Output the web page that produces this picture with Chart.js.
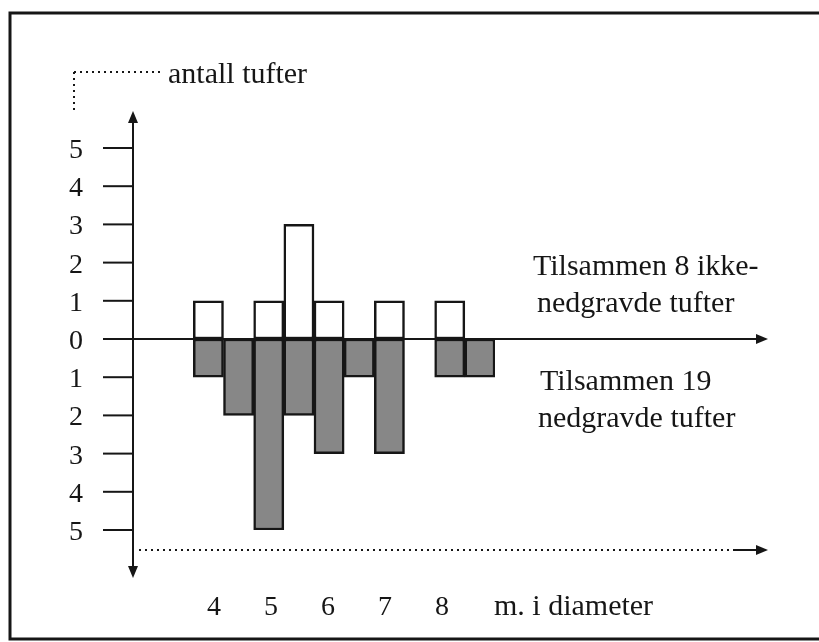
<!DOCTYPE html>
<html>
<head>
<meta charset="utf-8">
<script src="https://cdn.jsdelivr.net/npm/chart.js@4.4.1/dist/chart.umd.min.js"></script>
<style>
  html, body { margin: 0; padding: 0; background: #fff; }
  canvas { display: block; }
</style>
</head>
<body>
<canvas id="myChart" width="819" height="642"></canvas>
<script>
'use strict';

// half-metre diameter classes (the first two hold no tufts)
const bins = ['3', '3,5', '4', '4,5', '5', '5,5', '6', '6,5', '7', '7,5', '8', '8,5'];
// tufts not dug down, drawn upwards
const ikkeNedgravde = [0, 0, 1, 0, 1, 3, 1, 0, 1, 0, 1, 0];
// dug-down tufts, drawn downwards
const nedgravde = [0, 0, -1, -2, -5, -2, -3, -1, -3, 0, -1, -1];

const yTicks = [-5, -4, -3, -2, -1, 0, 1, 2, 3, 4, 5];
const xTicks = [4, 5, 6, 7, 8];

const yTitle = 'antall tufter';
const xTitle = 'm. i diameter';
const noteUp = ['Tilsammen 8 ikke-', 'nedgravde tufter'];
const noteDown = ['Tilsammen 19', 'nedgravde tufter'];

const INK = '#161616';
const SERIF = '"Liberation Serif", "Times New Roman", serif';

function arrowHead(ctx, x, y, dir) {
   const len = 12, half = 5;
   ctx.beginPath();
   ctx.moveTo(x, y);
   if (dir === 'up') { ctx.lineTo(x - half, y + len); ctx.lineTo(x + half, y + len); }
   if (dir === 'down') { ctx.lineTo(x - half, y - len); ctx.lineTo(x + half, y - len); }
   if (dir === 'right') { ctx.lineTo(x - len, y - half); ctx.lineTo(x - len, y + half); }
   ctx.closePath();
   ctx.fill();
}

function line(ctx, x1, y1, x2, y2) {
   ctx.beginPath();
   ctx.moveTo(x1, y1);
   ctx.lineTo(x2, y2);
   ctx.stroke();
}

// draws the frame, the arrowed axes, the dotted guides and all labels
const figurePlugin = {
   id: 'figure',
   beforeDraw(chart) {
      const ctx = chart.ctx;
      ctx.save();
      ctx.fillStyle = '#fff';
      ctx.fillRect(0, 0, chart.width, chart.height);
      ctx.restore();
   },
   afterDatasetsDraw(chart) {
      const ctx = chart.ctx;
      const y = chart.scales.y;
      const xd = chart.scales.xd;
      const axisX = chart.chartArea.left;
      const zeroY = y.getPixelForValue(0);

      ctx.save();
      ctx.strokeStyle = INK;
      ctx.fillStyle = INK;

      // frame
      ctx.lineWidth = 3;
      ctx.beginPath();
      ctx.moveTo(819, 13);
      ctx.lineTo(10, 13);
      ctx.lineTo(10, 639);
      ctx.lineTo(819, 639);
      ctx.stroke();

      // y axis with arrows both ways
      ctx.lineWidth = 2;
      line(ctx, axisX, 118, axisX, 570);
      arrowHead(ctx, axisX, 111, 'up');
      arrowHead(ctx, axisX, 578, 'down');

      // zero line
      line(ctx, axisX, zeroY, 758, zeroY);
      arrowHead(ctx, 768, zeroY, 'right');

      // y ticks and labels
      ctx.font = '28px ' + SERIF;
      ctx.textAlign = 'center';
      ctx.textBaseline = 'alphabetic';
      yTicks.forEach(function (v) {
         const py = y.getPixelForValue(v);
         line(ctx, 103, py, axisX, py);
         ctx.fillText(String(Math.abs(v)), 76, py + 10);
      });

      // x labels
      xTicks.forEach(function (v) {
         ctx.fillText(String(v), xd.getPixelForValue(v), 615);
      });
      ctx.font = '30px ' + SERIF;
      ctx.textAlign = 'left';
      ctx.fillText(xTitle, 494, 615);

      // dotted guide under the chart
      const dotY = 550;
      ctx.setLineDash([2, 4]);
      line(ctx, 139, dotY, 733, dotY);
      // dotted corner next to the y title
      line(ctx, 74, 72, 162, 72);
      line(ctx, 74, 72, 74, 110);
      ctx.setLineDash([]);
      line(ctx, 733, dotY, 758, dotY);
      arrowHead(ctx, 768, dotY, 'right');

      // titles and notes
      ctx.fillText(yTitle, 168, 83);
      ctx.fillText(noteUp[0], 533, 275);
      ctx.fillText(noteUp[1], 537, 312);
      ctx.fillText(noteDown[0], 540, 390);
      ctx.fillText(noteDown[1], 538, 427);
      ctx.restore();
   }
};

const ctx = document.getElementById('myChart');
const myChart = new Chart(ctx, {
   type: 'bar',
   data: {
      labels: bins,
      datasets: [{
         label: 'ikke-nedgravde',
         data: ikkeNedgravde,
         backgroundColor: '#ffffff',
         borderColor: INK,
         borderWidth: 2.5,
         borderSkipped: false
      }, {
         label: 'nedgravde',
         data: nedgravde,
         backgroundColor: '#878787',
         borderColor: INK,
         borderWidth: 2.5,
         borderSkipped: false
      }]
   },
   options: {
      responsive: false,
      animation: false,
      events: [],
      layout: { padding: { left: 133, right: 324, top: 148, bottom: 112 } },
      datasets: { bar: { categoryPercentage: 1, barPercentage: 1 } },
      plugins: { legend: { display: false }, tooltip: { enabled: false } },
      scales: {
         x: { stacked: true, display: false },
         y: { stacked: true, display: false, min: -5, max: 5 },
         // position scale for the diameter labels under the chart
         xd: { type: 'linear', axis: 'x', position: 'bottom', display: false, offset: false, min: 2.579, max: 8.93 }
      }
   },
   plugins: [figurePlugin]
});
</script>
</body>
</html>
